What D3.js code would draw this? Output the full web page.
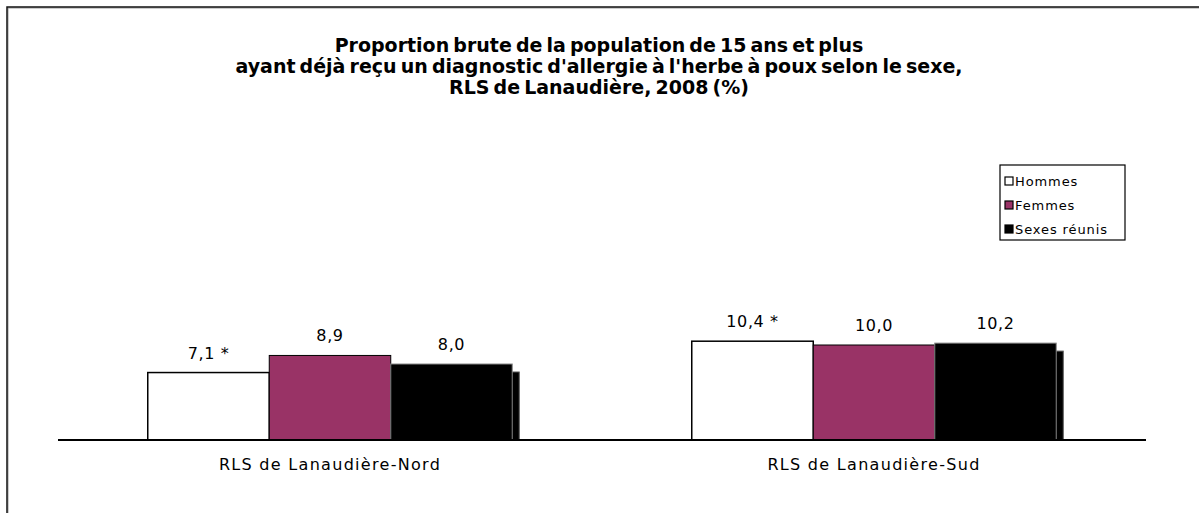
<!DOCTYPE html>
<html>
<head>
<meta charset="utf-8">
<script src="https://cdn.jsdelivr.net/npm/d3@7"></script>
<style>
  html, body { margin: 0; padding: 0; background: #fff; }
  svg { display: block; }
  text { font-family: "DejaVu Sans", sans-serif; fill: #000; }
</style>
</head>
<body>
<svg id="chart" width="1199" height="513"></svg>
<script>
// Regions and sexes
const regions = ["RLS de Lanaudière-Nord", "RLS de Lanaudière-Sud"];
const series = ["Hommes", "Femmes", "Sexes réunis"];

// Proportion (%) per region, in the order of the series
const hommes = [7.1, 10.4];
const femmes = [8.9, 10.0];
const sexesReunis = [8.0, 10.2];

// Labels printed above the bars (* = interpret with caution)
const hommesLabels = ["7,1 *", "10,4 *"];
const femmesLabels = ["8,9", "10,0"];
const sexesReunisLabels = ["8,0", "10,2"];

const titleLines = [
  "Proportion brute de la population de 15 ans et plus",
  "ayant déjà reçu un diagnostic d'allergie à l'herbe à poux selon le sexe,",
  "RLS de Lanaudière, 2008 (%)"
];

const colors = ["#ffffff", "#993366", "#000000"];
const valuesBySeries = [hommes, femmes, sexesReunis];
const labelsBySeries = [hommesLabels, femmesLabels, sexesReunisLabels];

const data = regions.map((r, i) => ({
  region: r,
  bars: series.map((s, j) => ({ series: s, value: valuesBySeries[j][i], label: labelsBySeries[j][i], color: colors[j] }))
}));

const svg = d3.select("#chart");

// Outer frame
svg.append("rect")
  .attr("x", 8).attr("y", 8).attr("width", 1200).attr("height", 520)
  .attr("fill", "none").attr("stroke", "#999").attr("stroke-width", 1);
svg.append("rect")
  .attr("x", 7).attr("y", 7).attr("width", 1200).attr("height", 520)
  .attr("fill", "none").attr("stroke", "#111").attr("stroke-width", 1.5);

// Title
const title = svg.append("text")
  .attr("text-anchor", "middle")
  .style("font-weight", "bold")
  .style("font-size", "19px")
  .style("word-spacing", "-2.5px");
titleLines.forEach((t, i) => {
  title.append("tspan").attr("x", 599).attr("y", 52 + i * 21).text(t);
});

// Scales
const plotLeft = 58, plotRight = 1146, baseline = 440;
const x0 = d3.scaleBand().domain(regions).range([plotLeft, plotRight]).paddingInner(0.33).paddingOuter(0.165);
const x1 = d3.scaleBand().domain(series).range([0, x0.bandwidth()]).padding(0);
const y = d3.scaleLinear().domain([0, 12]).range([baseline, baseline - 12 * 9.5]);

const groups = svg.append("g").selectAll("g").data(data).join("g")
  .attr("transform", d => `translate(${x0(d.region)},0)`);

// Drop shadow behind the combined-sexes bars
groups.selectAll("rect.shadow").data(d => d.bars.filter(b => b.series === "Sexes réunis")).join("rect")
  .attr("class", "shadow")
  .attr("x", b => x1(b.series) + 7)
  .attr("y", b => y(b.value) + 8)
  .attr("width", x1.bandwidth())
  .attr("height", b => baseline - y(b.value) - 8)
  .attr("fill", "#000")
  .attr("stroke", "#555").attr("stroke-width", 1);

groups.selectAll("rect.bar").data(d => d.bars).join("rect")
  .attr("class", "bar")
  .attr("x", b => x1(b.series))
  .attr("y", b => y(b.value))
  .attr("width", x1.bandwidth())
  .attr("height", b => baseline - y(b.value))
  .attr("fill", b => b.color)
  .attr("stroke", b => b.series === "Sexes réunis" ? "#888" : "#000")
  .attr("stroke-width", b => b.series === "Hommes" ? 1.5 : 1);

groups.selectAll("text.val").data(d => d.bars).join("text")
  .attr("class", "val")
  .attr("x", b => x1(b.series) + x1.bandwidth() / 2)
  .attr("y", b => y(b.value) - 14)
  .attr("text-anchor", "middle")
  .style("font-size", "16px")
  .style("letter-spacing", "0.6px")
  .text(b => b.label);

// Category axis
const xAxis = svg.append("g").attr("transform", `translate(0,${baseline})`)
  .call(d3.axisBottom(x0).tickSize(0).tickPadding(19));
xAxis.select(".domain").attr("stroke", "#000").attr("stroke-width", 2)
  .attr("d", `M${plotLeft},0H${plotRight}`);
xAxis.selectAll(".tick text")
  .style("font-family", "'DejaVu Sans', sans-serif")
  .style("font-size", "16px")
  .style("letter-spacing", "1.3px")
  .attr("fill", "#000");

// Legend
const legend = svg.append("g").attr("transform", "translate(1000,165)");
legend.append("rect").attr("width", 125).attr("height", 75)
  .attr("fill", "#fff").attr("stroke", "#000").attr("stroke-width", 1.2);
series.forEach((s, i) => {
  const row = legend.append("g").attr("transform", `translate(5,${16 + i * 24})`);
  row.append("rect").attr("x", 0).attr("y", -4).attr("width", 8).attr("height", 8)
    .attr("fill", colors[i]).attr("stroke", "#000").attr("stroke-width", 1.2);
  row.append("text").attr("x", 10).attr("y", 5)
    .style("font-size", "13px")
    .style("letter-spacing", "0.9px")
    .text(s);
});
</script>
</body>
</html>
